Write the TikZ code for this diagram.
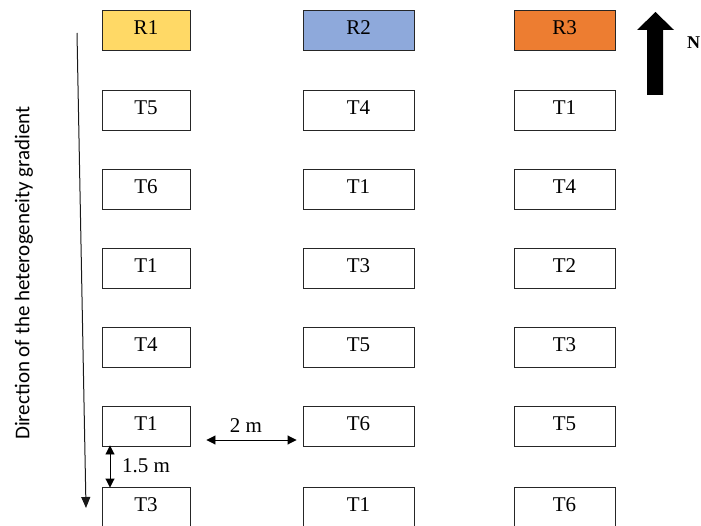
\documentclass[tikz,border=0pt]{standalone}
\usepackage{fontspec}
\setmainfont{Liberation Serif}
\newfontfamily\gradfont{Carlito}
\usetikzlibrary{arrows.meta}
\definecolor{ryellow}{HTML}{FFD966}
\definecolor{rblue}{HTML}{8EA9DB}
\definecolor{rorange}{HTML}{ED7D31}
\tikzset{
  plot/.style={draw=black!85, line width=0.9pt, minimum height=40pt, inner sep=0pt,
    font=\fontsize{21}{21}\selectfont, text height=14pt, text depth=5pt},
  colA/.style={plot, minimum width=88pt},
  colB/.style={plot, minimum width=111pt},
  colC/.style={plot, minimum width=101pt},
  dimarrow/.style={line width=0.9pt, {Triangle[length=9pt,width=9pt]}-{Triangle[length=9pt,width=9pt]}},
  dimlabel/.style={font=\fontsize{21}{21}\selectfont, inner sep=0pt},
}
\begin{document}
\begin{tikzpicture}[x=1pt,y=-1pt]
\useasboundingbox (0,0) rectangle (701,526);
% headers
\node[colA, fill=ryellow] (r1) at (146,30) {R1};
\node[colB, fill=rblue] (r2) at (358.5,30) {R2};
\node[colC, fill=rorange] (r3) at (564.5,30) {R3};
% column 1
\node[colA] (a1) at (146,110) {T5};
\node[colA] (a2) at (146,189) {T6};
\node[colA] (a3) at (146,268) {T1};
\node[colA] (a4) at (146,347) {T4};
\node[colA] (a5) at (146,426) {T1};
\node[colA] (a6) at (146,507) {T3};
% column 2
\node[colB] (b1) at (358.5,110) {T4};
\node[colB] (b2) at (358.5,189) {T1};
\node[colB] (b3) at (358.5,268) {T3};
\node[colB] (b4) at (358.5,347) {T5};
\node[colB] (b5) at (358.5,426) {T6};
\node[colB] (b6) at (358.5,507) {T1};
% column 3
\node[colC] (c1) at (564.5,110) {T1};
\node[colC] (c2) at (564.5,189) {T4};
\node[colC] (c3) at (564.5,268) {T2};
\node[colC] (c4) at (564.5,347) {T3};
\node[colC] (c5) at (564.5,426) {T5};
\node[colC] (c6) at (564.5,507) {T6};
% north arrow
\fill[black] (647,95) -- (647,30) -- (637,30) -- (655.5,12) -- (674,30) -- (663,30) -- (663,95) -- cycle;
\node[font=\bfseries\fontsize{18}{18}\selectfont, anchor=base west, inner sep=0pt] (north) at (687,49) {N};
% gradient arrow
\coordinate (gtop) at (77,33);
\coordinate (gbot) at (86,508);
\draw[line width=1pt, black!90, -{Triangle[length=11pt,width=9pt]}] (gtop) -- (gbot);
\node[font=\gradfont\fontsize{21}{21}\selectfont, rotate=90, inner sep=0pt] (gradtxt) at (24,273) {Direction of the heterogeneity gradient};
% 2 m
\coordinate (h1) at ([xshift=16pt]a5.east |- 0,440);
\coordinate (h2) at ([xshift=-6pt]b5.west |- 0,440);
\draw[dimarrow] (h1) -- (h2);
\node[dimlabel, anchor=base] (twom) at (246,432) {2 m};
% 1.5 m
\coordinate (v1) at ([xshift=-36pt,yshift=1pt]a5.south);
\coordinate (v2) at ([xshift=-36pt,yshift=-1pt]a6.north);
\draw[dimarrow] (v1) -- (v2);
\node[dimlabel, anchor=base west] (onefive) at (122,472) {1.5 m};
\end{tikzpicture}
\end{document}
